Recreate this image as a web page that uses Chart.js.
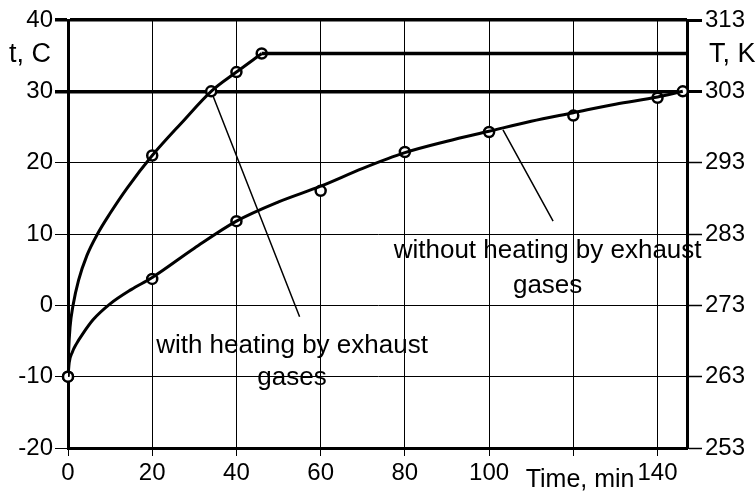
<!DOCTYPE html>
<html>
<head>
<meta charset="utf-8">
<script src="https://cdn.jsdelivr.net/npm/chart.js@4"></script>
<style>
  body { margin: 0; background: #fff; }
  #wrap { width: 756px; height: 493px; }
</style>
</head>
<body>
<div id="wrap"><canvas id="tempChart"></canvas></div>
<script>
// marker points
const timeHeated = [0, 20, 34, 40, 46];
const tempHeated = [-10, 21, 30, 32.7, 35.3];
const timeCold = [0, 20, 40, 60, 80, 100, 120, 140, 146];
const tempCold = [-10, 3.7, 11.8, 16.05, 21.5, 24.3, 26.6, 29.1, 30];

// smooth curves traced through the picture
const curveHeatedT = [0, 0.15, 0.5, 1.2, 2.5, 4.5, 7, 10, 14, 20, 27, 34, 40, 46];
const curveHeatedV = [-10, -6.5, -3, 0, 3.5, 7, 10, 12.9, 16.4, 21, 25.6, 30, 32.7, 35.3];
const curveColdT = [0, 0.3, 1, 2, 3.5, 6, 10, 15, 20, 30, 40, 50, 60, 70, 80, 90, 100, 110, 120, 130, 140, 146];
const curveColdV = [-10, -8, -6.6, -5.4, -4, -2, 0.2, 2.2, 3.9, 8, 11.8, 14.5, 16.7, 19.2, 21.4, 23, 24.4, 25.8, 27, 28.2, 29.2, 30];

// steady level after warm-up
const plateauT = [46, 147];
const plateauV = [35.3, 35.3];

const kelvinTicks = [253, 263, 273, 283, 293, 303, 313];
const labelHeated = ['with heating by exhaust', 'gases'];
const labelCold = ['without heating by exhaust', 'gases'];

const FONT = "'Liberation Sans', Arial, sans-serif";

function pts(xs, ys) {
    return xs.map((x, i) => ({ x: x, y: ys[i] }));
}

// texts and pointer lines
const notes = {
    id: 'notes',
    beforeDatasetsDraw(chart) {
        const { ctx } = chart;
        const x = chart.scales.x, y = chart.scales.y;
        ctx.save();
        ctx.strokeStyle = '#000';
        ctx.lineWidth = 1.5;
        ctx.beginPath();
        ctx.moveTo(x.getPixelForValue(34), y.getPixelForValue(30));
        ctx.lineTo(x.getPixelForValue(55), y.getPixelForValue(-1.6));
        ctx.moveTo(x.getPixelForValue(103.3), y.getPixelForValue(24.6));
        ctx.lineTo(x.getPixelForValue(115.2), y.getPixelForValue(11.8));
        ctx.stroke();
        ctx.restore();
    },
    afterDraw(chart) {
        const { ctx, chartArea } = chart;
        const x = chart.scales.x, y = chart.scales.y;
        ctx.save();
        ctx.fillStyle = '#000';
        ctx.textBaseline = 'alphabetic';
        ctx.font = '26px ' + FONT;
        ctx.textAlign = 'center';
        ctx.fillText(labelHeated[0], x.getPixelForValue(53.2), y.getPixelForValue(-6.7));
        ctx.fillText(labelHeated[1], x.getPixelForValue(53.2), y.getPixelForValue(-11.2));
        ctx.fillText(labelCold[0], x.getPixelForValue(113.9), y.getPixelForValue(6.6));
        ctx.fillText(labelCold[1], x.getPixelForValue(113.9), y.getPixelForValue(1.7));

        ctx.textAlign = 'left';
        ctx.font = '27px ' + FONT;
        ctx.fillText('t, C', 9, chartArea.top + 42);
        ctx.fillText('T, K', chartArea.right + 22, chartArea.top + 42);
        ctx.font = '25px ' + FONT;
        ctx.fillText('Time, min', x.getPixelForValue(108.7), chartArea.bottom + 39);
        ctx.restore();
    }
};

const lineStyle = {
    borderColor: '#000',
    borderWidth: 3,
    pointRadius: 0,
    showLine: true,
    cubicInterpolationMode: 'monotone',
    fill: false
};

const markStyle = {
    showLine: false,
    pointRadius: 5,
    pointBorderWidth: 2.5,
    pointBorderColor: '#000',
    pointBackgroundColor: '#fff',
    clip: false
};

const thick = v => (v === 30 || v === 40) ? 3.5 : 1;

new Chart(document.getElementById('tempChart'), {
    type: 'scatter',
    data: {
        datasets: [
            Object.assign({ label: 'heated curve', data: pts(curveHeatedT, curveHeatedV) }, lineStyle),
            Object.assign({ label: 'cold curve', data: pts(curveColdT, curveColdV) }, lineStyle),
            Object.assign({ label: 'plateau', data: pts(plateauT, plateauV) }, lineStyle, { borderWidth: 3.5 }),
            Object.assign({ label: 'heated', data: pts(timeHeated, tempHeated) }, markStyle),
            Object.assign({ label: 'cold', data: pts(timeCold, tempCold) }, markStyle)
        ]
    },
    options: {
        responsive: true,
        maintainAspectRatio: false,
        animation: false,
        layout: { padding: { top: 20, left: 0, right: 0, bottom: 0 } },
        plugins: {
            legend: { display: false },
            tooltip: { enabled: false }
        },
        scales: {
            x: {
                type: 'linear',
                min: 0,
                max: 147,
                afterFit: s => { s.height = 45; },
                border: { color: '#000', width: 3 },
                grid: { color: '#000', lineWidth: 1, tickLength: 8 },
                ticks: {
                    stepSize: 20,
                    includeBounds: false,
                    color: '#000',
                    padding: 3,
                    maxRotation: 0,
                    font: { family: FONT, size: 24 },
                    callback: v => v === 120 ? '' : v
                }
            },
            y: {
                position: 'left',
                min: -20,
                max: 40,
                afterFit: s => { s.width = 68; },
                border: { color: '#000', width: 3 },
                grid: {
                    color: '#000',
                    lineWidth: c => thick(c.tick.value),
                    tickLength: 13
                },
                ticks: {
                    stepSize: 10,
                    color: '#000',
                    padding: 2,
                    font: { family: FONT, size: 24 }
                }
            },
            y2: {
                position: 'right',
                min: 253,
                max: 313,
                afterFit: s => { s.width = 69; },
                afterBuildTicks: s => { s.ticks = kelvinTicks.map(v => ({ value: v })); },
                border: { color: '#000', width: 3 },
                grid: {
                    drawOnChartArea: false,
                    color: '#000',
                    tickLength: 15,
                    tickWidth: c => (c.tick.value === 303 || c.tick.value === 313) ? 3 : 1.5
                },
                ticks: {
                    color: '#000',
                    padding: 3,
                    font: { family: FONT, size: 24 }
                }
            }
        }
    },
    plugins: [notes]
});
</script>
</body>
</html>
